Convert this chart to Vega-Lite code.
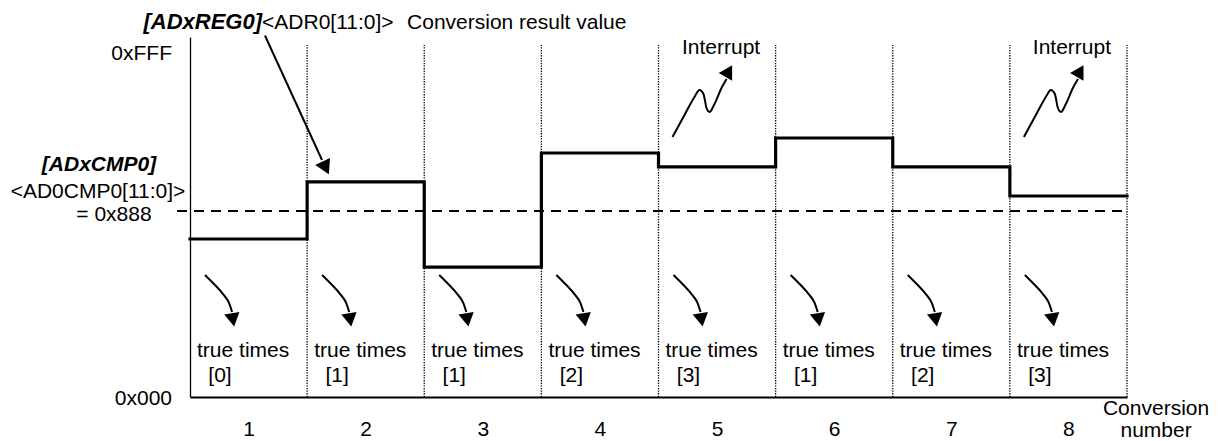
{
  "$schema": "https://vega.github.io/schema/vega-lite/v6.json",
  "width": 937,
  "height": 360,
  "autosize": {"type": "none"},
  "padding": {"left": 190, "top": 37, "right": 91, "bottom": 44},
  "background": "white",
  "config": {
    "view": {"stroke": null},
    "font": "Liberation Sans",
    "text": {"font": "Liberation Sans", "fontSize": 21, "color": "black", "baseline": "alphabetic"}
  },
  "datasets": {
    "steps": [
      {"x": 0, "y": 1855}, {"x": 1, "y": 2525}, {"x": 2, "y": 1526}, {"x": 3, "y": 2865},
      {"x": 4, "y": 2701}, {"x": 5, "y": 3041}, {"x": 6, "y": 2701}, {"x": 7, "y": 2360}, {"x": 8, "y": 2360}
    ],
    "dividers": [
      {"x": 1, "y": 0, "y2": 4133}, {"x": 2, "y": 0, "y2": 4133}, {"x": 3, "y": 0, "y2": 4133}, {"x": 4, "y": 0, "y2": 4133},
      {"x": 5, "y": 0, "y2": 4133}, {"x": 6, "y": 0, "y2": 4133}, {"x": 7, "y": 0, "y2": 4133}, {"x": 8, "y": 0, "y2": 4133}
    ],
    "threshold": [{"x": -0.111, "y": 2184}, {"x": 8, "y": 2184}],
    "curves": [
      {"seg": 0, "o": 1, "x": 0.128, "y": 1433}, {"seg": 0, "o": 2, "x": 0.213, "y": 1315}, {"seg": 0, "o": 3, "x": 0.282, "y": 1209}, {"seg": 0, "o": 4, "x": 0.333, "y": 1104}, {"seg": 0, "o": 5, "x": 0.359, "y": 998},
      {"seg": 1, "o": 1, "x": 1.128, "y": 1433}, {"seg": 1, "o": 2, "x": 1.213, "y": 1315}, {"seg": 1, "o": 3, "x": 1.282, "y": 1209}, {"seg": 1, "o": 4, "x": 1.333, "y": 1104}, {"seg": 1, "o": 5, "x": 1.359, "y": 998},
      {"seg": 2, "o": 1, "x": 2.128, "y": 1433}, {"seg": 2, "o": 2, "x": 2.213, "y": 1315}, {"seg": 2, "o": 3, "x": 2.282, "y": 1209}, {"seg": 2, "o": 4, "x": 2.333, "y": 1104}, {"seg": 2, "o": 5, "x": 2.359, "y": 998},
      {"seg": 3, "o": 1, "x": 3.128, "y": 1433}, {"seg": 3, "o": 2, "x": 3.213, "y": 1315}, {"seg": 3, "o": 3, "x": 3.282, "y": 1209}, {"seg": 3, "o": 4, "x": 3.333, "y": 1104}, {"seg": 3, "o": 5, "x": 3.359, "y": 998},
      {"seg": 4, "o": 1, "x": 4.128, "y": 1433}, {"seg": 4, "o": 2, "x": 4.213, "y": 1315}, {"seg": 4, "o": 3, "x": 4.282, "y": 1209}, {"seg": 4, "o": 4, "x": 4.333, "y": 1104}, {"seg": 4, "o": 5, "x": 4.359, "y": 998},
      {"seg": 5, "o": 1, "x": 5.128, "y": 1433}, {"seg": 5, "o": 2, "x": 5.213, "y": 1315}, {"seg": 5, "o": 3, "x": 5.282, "y": 1209}, {"seg": 5, "o": 4, "x": 5.333, "y": 1104}, {"seg": 5, "o": 5, "x": 5.359, "y": 998},
      {"seg": 6, "o": 1, "x": 6.128, "y": 1433}, {"seg": 6, "o": 2, "x": 6.213, "y": 1315}, {"seg": 6, "o": 3, "x": 6.282, "y": 1209}, {"seg": 6, "o": 4, "x": 6.333, "y": 1104}, {"seg": 6, "o": 5, "x": 6.359, "y": 998},
      {"seg": 7, "o": 1, "x": 7.128, "y": 1433}, {"seg": 7, "o": 2, "x": 7.213, "y": 1315}, {"seg": 7, "o": 3, "x": 7.282, "y": 1209}, {"seg": 7, "o": 4, "x": 7.333, "y": 1104}, {"seg": 7, "o": 5, "x": 7.359, "y": 998}
    ],
    "curveHeads": [
      {"x": 0.367, "y": 906}, {"x": 1.367, "y": 906}, {"x": 2.367, "y": 906}, {"x": 3.367, "y": 906},
      {"x": 4.367, "y": 906}, {"x": 5.367, "y": 906}, {"x": 6.367, "y": 906}, {"x": 7.367, "y": 906}
    ],
    "zigzags": [
      {"seg": 4, "o": 1, "x": 4.120, "y": 3053}, {"seg": 4, "o": 2, "x": 4.222, "y": 3311}, {"seg": 4, "o": 3, "x": 4.307, "y": 3523}, {"seg": 4, "o": 4, "x": 4.350, "y": 3605}, {"seg": 4, "o": 5, "x": 4.384, "y": 3558},
      {"seg": 4, "o": 6, "x": 4.410, "y": 3393}, {"seg": 4, "o": 7, "x": 4.435, "y": 3346}, {"seg": 4, "o": 8, "x": 4.478, "y": 3440}, {"seg": 4, "o": 9, "x": 4.538, "y": 3628}, {"seg": 4, "o": 10, "x": 4.581, "y": 3734},
      {"seg": 7, "o": 1, "x": 7.120, "y": 3053}, {"seg": 7, "o": 2, "x": 7.222, "y": 3311}, {"seg": 7, "o": 3, "x": 7.307, "y": 3523}, {"seg": 7, "o": 4, "x": 7.350, "y": 3605}, {"seg": 7, "o": 5, "x": 7.384, "y": 3558},
      {"seg": 7, "o": 6, "x": 7.410, "y": 3393}, {"seg": 7, "o": 7, "x": 7.435, "y": 3346}, {"seg": 7, "o": 8, "x": 7.478, "y": 3440}, {"seg": 7, "o": 9, "x": 7.538, "y": 3628}, {"seg": 7, "o": 10, "x": 7.581, "y": 3734}
    ],
    "zigHeads": [{"x": 4.600, "y": 3826}, {"x": 7.600, "y": 3826}],
    "pointer": [{"x": 0.640, "y": 4245}, {"x": 1.127, "y": 2783}],
    "pointerHead": [{"x": 1.159, "y": 2690}],
    "textLeft": [
      {"x": 0.615, "y": 4321, "t": "<ADR0[11:0]>"},
      {"x": 1.853, "y": 4321, "t": "Conversion result value"},
      {"x": 0.06, "y": 470, "t": "true times"}, {"x": 1.06, "y": 470, "t": "true times"},
      {"x": 2.06, "y": 470, "t": "true times"}, {"x": 3.06, "y": 470, "t": "true times"},
      {"x": 4.06, "y": 470, "t": "true times"}, {"x": 5.06, "y": 470, "t": "true times"},
      {"x": 6.06, "y": 470, "t": "true times"}, {"x": 7.06, "y": 470, "t": "true times"}
    ],
    "textRight": [
      {"x": -0.1537, "y": 3957, "t": "0xFFF"},
      {"x": -0.1537, "y": -94, "t": "0x000"}
    ],
    "textCenter": [
      {"x": 4.534, "y": 4028, "t": "Interrupt"},
      {"x": 7.530, "y": 4028, "t": "Interrupt"},
      {"x": 0.256, "y": 176, "t": "[0]"}, {"x": 1.256, "y": 176, "t": "[1]"},
      {"x": 2.256, "y": 176, "t": "[1]"}, {"x": 3.256, "y": 176, "t": "[2]"},
      {"x": 4.256, "y": 176, "t": "[3]"}, {"x": 5.256, "y": 176, "t": "[1]"},
      {"x": 6.256, "y": 176, "t": "[2]"}, {"x": 7.256, "y": 176, "t": "[3]"},
      {"x": -0.7855, "y": 2337, "t": "<AD0CMP0[11:0]>"},
      {"x": -0.649, "y": 2067, "t": "= 0x888"},
      {"x": 8.248, "y": -211, "t": "Conversion"},
      {"x": 8.248, "y": -465, "t": "number"}
    ],
    "boldRight": [{"x": 0.615, "y": 4321, "t": "[ADxREG0]"}],
    "boldCenter": [{"x": -0.777, "y": 2654, "t": "[ADxCMP0]"}]
  },
  "encoding": {
    "x": {
      "field": "x", "type": "quantitative",
      "scale": {"domain": [0, 8], "nice": false, "zero": false},
      "axis": {
        "values": [0.5, 1.5, 2.5, 3.5, 4.5, 5.5, 6.5, 7.5],
        "labelExpr": "format(datum.value + 0.5, 'd')",
        "ticks": false, "tickSize": 0, "grid": false, "title": null,
        "domainColor": "black", "domainWidth": 2,
        "labelFont": "Liberation Sans", "labelFontSize": 21, "labelColor": "black",
        "labelPadding": 21, "labelFlush": false, "labelOverlap": false
      }
    },
    "y": {
      "field": "y", "type": "quantitative",
      "scale": {"domain": [0, 4227], "nice": false, "zero": false},
      "axis": {
        "values": [], "labels": false, "ticks": false, "grid": false, "title": null,
        "domainColor": "black", "domainWidth": 1.3
      }
    }
  },
  "layer": [
    {
      "data": {"name": "dividers"},
      "mark": {"type": "rule", "color": "black", "strokeWidth": 1.3, "strokeDash": [1.3, 1.3]},
      "encoding": {"y2": {"field": "y2"}}
    },
    {
      "data": {"name": "threshold"},
      "mark": {"type": "line", "color": "black", "strokeWidth": 2, "strokeDash": [10, 7], "clip": false}
    },
    {
      "data": {"name": "steps"},
      "mark": {"type": "line", "interpolate": "step-after", "color": "black", "strokeWidth": 3.2, "strokeCap": "square"}
    },
    {
      "data": {"name": "curves"},
      "mark": {"type": "line", "interpolate": "monotone", "color": "black", "strokeWidth": 2},
      "encoding": {"detail": {"field": "seg"}, "order": {"field": "o"}}
    },
    {
      "data": {"name": "curveHeads"},
      "mark": {"type": "point", "shape": "triangle-down", "filled": true, "color": "black", "opacity": 1, "size": 240, "angle": 350}
    },
    {
      "data": {"name": "zigzags"},
      "mark": {"type": "line", "interpolate": "monotone", "color": "black", "strokeWidth": 2},
      "encoding": {"detail": {"field": "seg"}, "order": {"field": "o"}}
    },
    {
      "data": {"name": "zigHeads"},
      "mark": {"type": "point", "shape": "triangle-up", "filled": true, "color": "black", "opacity": 1, "size": 240, "angle": 30}
    },
    {
      "data": {"name": "pointer"},
      "mark": {"type": "line", "color": "black", "strokeWidth": 2, "clip": false}
    },
    {
      "data": {"name": "pointerHead"},
      "mark": {"type": "point", "shape": "triangle-down", "filled": true, "color": "black", "opacity": 1, "size": 270, "angle": 334}
    },
    {
      "data": {"name": "textLeft"},
      "mark": {"type": "text", "align": "left"},
      "encoding": {"text": {"field": "t"}}
    },
    {
      "data": {"name": "textRight"},
      "mark": {"type": "text", "align": "right"},
      "encoding": {"text": {"field": "t"}}
    },
    {
      "data": {"name": "textCenter"},
      "mark": {"type": "text", "align": "center"},
      "encoding": {"text": {"field": "t"}}
    },
    {
      "data": {"name": "boldRight"},
      "mark": {"type": "text", "align": "right", "fontWeight": "bold", "fontStyle": "italic", "fontSize": 22},
      "encoding": {"text": {"field": "t"}}
    },
    {
      "data": {"name": "boldCenter"},
      "mark": {"type": "text", "align": "center", "fontWeight": "bold", "fontStyle": "italic"},
      "encoding": {"text": {"field": "t"}}
    }
  ]
}
